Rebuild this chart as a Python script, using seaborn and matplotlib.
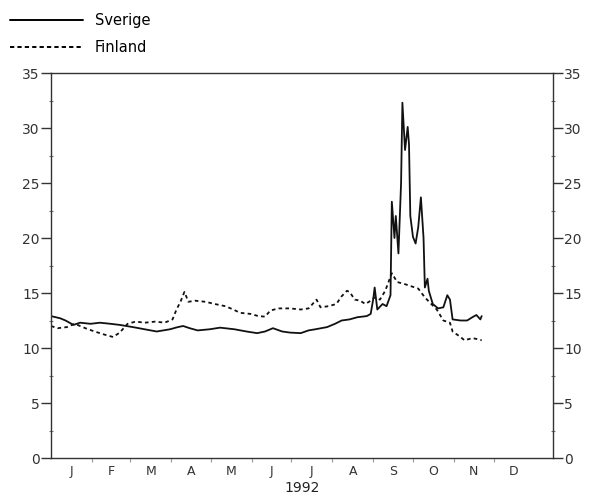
import numpy as np
import pandas as pd
import matplotlib
matplotlib.use("Agg")
import matplotlib.pyplot as plt
import seaborn as sns
from matplotlib.lines import Line2D
from matplotlib.ticker import FixedLocator, NullFormatter, FixedFormatter, MultipleLocator

# --- data (day of year 1992, percent) ---
sverige_days = [0, 7, 11, 17, 22, 30, 37, 45, 52, 62, 71, 80, 90, 96, 100, 105, 111, 120, 128, 139,
                148, 156, 162, 168, 175, 181, 189, 195, 200, 209, 215, 220, 226, 232, 239,
                242, 244, 245, 247, 251, 254, 257, 258, 260, 261, 263, 265, 266, 268, 270, 271, 272, 274, 276, 278,
                280, 282, 283, 285, 286, 289, 293, 297, 300, 302, 304, 310, 315, 319, 322, 325, 326]
sverige_vals = [12.9, 12.7, 12.5, 12.1, 12.3, 12.2, 12.3, 12.2, 12.1, 11.9, 11.7, 11.5, 11.7, 11.9, 12.0, 11.8, 11.6, 11.7, 11.85, 11.7,
                11.5, 11.35, 11.5, 11.8, 11.5, 11.4, 11.35, 11.6, 11.7, 11.9, 12.2, 12.5, 12.6, 12.8, 12.9,
                13.1, 14.5, 15.5, 13.5, 14.0, 13.8, 14.8, 23.3, 20.0, 22.0, 18.6, 25.0, 32.3, 28.0, 30.1, 28.5, 22.0, 20.1, 19.5, 21.0,
                23.7, 20.0, 15.5, 16.3, 15.2, 14.0, 13.6, 13.7, 14.8, 14.4, 12.6, 12.5, 12.5, 12.8, 13.0, 12.6, 12.9]

finland_days = [0, 5, 12, 18, 26, 33, 41, 47, 52, 58, 64, 71, 79, 86, 92, 95, 98, 101, 104, 109,
                117, 124, 132, 138, 143, 151, 157, 162, 166, 172, 181, 189, 195, 198, 201, 204, 210, 216, 220, 224,
                226, 230, 234, 238, 242, 245, 249, 253, 258, 262, 268, 273, 278, 283, 287, 292, 297, 302, 304, 310,
                313, 319, 323, 326]
finland_vals = [12.0, 11.8, 11.9, 12.2, 11.8, 11.5, 11.2, 11.0, 11.4, 12.2, 12.4, 12.3, 12.4, 12.3, 12.6, 13.5, 14.2, 15.1, 14.2, 14.3,
                14.2, 14.0, 13.8, 13.5, 13.2, 13.1, 12.9, 12.85, 13.4, 13.6, 13.6, 13.5, 13.6, 14.0, 14.4, 13.7, 13.8, 14.0, 14.7, 15.2,
                15.1, 14.4, 14.3, 14.0, 14.3, 14.6, 14.4, 15.2, 16.8, 16.0, 15.8, 15.6, 15.4, 14.6, 14.1, 13.5, 12.5, 12.3, 11.5, 11.0,
                10.7, 10.9, 10.8, 10.7]

month_labels = ["J", "F", "M", "A", "M", "J", "J", "A", "S", "O", "N", "D"]
month_starts = [0, 31, 60, 91, 121, 152, 182, 213, 244, 274, 305, 335, 366]
year_label = "1992"
series_names = ["Sverige", "Finland"]
y_ticks = [0, 5, 10, 15, 20, 25, 30, 35]

df = pd.concat([
    pd.DataFrame({"day": sverige_days, "value": sverige_vals, "land": series_names[0]}),
    pd.DataFrame({"day": finland_days, "value": finland_vals, "land": series_names[1]}),
], ignore_index=True)

sns.set_style("white")
plt.rcParams["font.family"] = ["DejaVu Sans"]

fig = plt.figure(figsize=(5.95, 4.98), dpi=100)
ax = fig.add_axes([51 / 595, 1 - 458 / 498, (553 - 51) / 595, (458 - 73) / 498])

sns.lineplot(data=df, x="day", y="value", hue="land", style="land",
             palette={series_names[0]: "#111111", series_names[1]: "#111111"},
             dashes={series_names[0]: "", series_names[1]: (2.0, 1.8)},
             linewidth=1.3, ax=ax, legend=False, estimator=None, sort=False)

ax.set_xlim(0, 380)
ax.set_ylim(0, 35)
ax.set_xlabel(year_label, fontsize=10, color="#222222", labelpad=2)
ax.set_ylabel("")

for s in ax.spines.values():
    s.set_color("#333333")
    s.set_linewidth(1.0)

# y axis: ticks both sides
ax.yaxis.set_major_locator(FixedLocator(y_ticks))
ax.yaxis.set_minor_locator(MultipleLocator(2.5))
ax.tick_params(axis="y", which="major", left=True, right=True, labelleft=True, labelright=True,
               direction="out", length=7, width=1.0, labelsize=10, labelcolor="#333333", color="#333333", pad=1)
ax.tick_params(axis="y", which="minor", left=True, right=True, direction="inout", length=3, width=0.8, color="#777777")

# x axis: month boundaries as ticks, labels at mid-month
mids = [(month_starts[i] + month_starts[i + 1]) / 2 for i in range(12)]
ax.xaxis.set_major_locator(FixedLocator(month_starts[1:12]))
ax.xaxis.set_major_formatter(NullFormatter())
ax.xaxis.set_minor_locator(FixedLocator(mids))
ax.xaxis.set_minor_formatter(FixedFormatter(month_labels))
ax.tick_params(axis="x", which="major", bottom=True, direction="out", length=3, width=0.8, color="#999999")
ax.tick_params(axis="x", which="minor", bottom=True, length=0, labelsize=9, labelcolor="#333333", pad=5)

handles = [Line2D([], [], color="black", lw=1.4, linestyle="-"),
           Line2D([], [], color="black", lw=1.4, linestyle=(0, (2.2, 1.6)))]
fig.legend(handles, series_names, loc="upper left", bbox_to_anchor=(0.0, 0.995), frameon=False,
           fontsize=10.5, handlelength=5.0, handletextpad=0.8, labelspacing=0.85, borderaxespad=0.3,
           labelcolor="black")

fig.savefig("out.png", dpi=100)
